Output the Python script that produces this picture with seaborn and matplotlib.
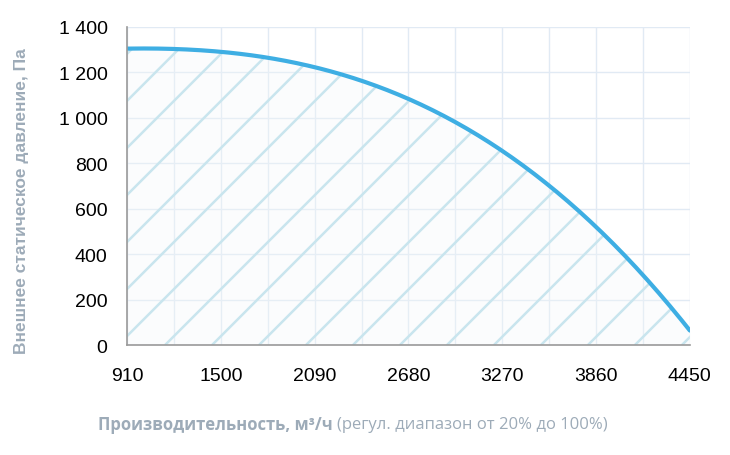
import matplotlib
matplotlib.use('Agg')

import numpy as np
import pandas as pd
import matplotlib.pyplot as plt
import seaborn as sns
from matplotlib.ticker import FixedLocator, FuncFormatter

# Data
airflow = [910, 1205, 1500, 1795, 2090, 2385, 2680, 2975, 3270, 3565, 3860, 4155, 4450]
pressure = [1303, 1302, 1294, 1268, 1215, 1160, 1083, 982, 860, 700, 522, 300, 68]
x_ticks = [910, 1500, 2090, 2680, 3270, 3860, 4450]
x_minor = [1205, 1795, 2385, 2975, 3565, 4155]
y_ticks = [0, 200, 400, 600, 800, 1000, 1200, 1400]

df = pd.DataFrame({'airflow': airflow, 'pressure': pressure})

sns.set_style('white')
plt.rcParams['font.family'] = ['Liberation Sans', 'DejaVu Sans']

curve_color = '#3eaee3'
hatch_color = '#c9e5ee'
grid_color = '#e1eaf4'
label_color = '#9dabb8'
axis_color = '#9a9a9a'

fig = plt.figure(figsize=(7.30, 4.56), dpi=100)
ax = fig.add_axes([0.174, 0.241, 0.771, 0.698])

# smooth curve through the read points
xs = np.linspace(airflow[0], airflow[-1], 200)
coef = np.polyfit(airflow, pressure, 4)
smooth = pd.DataFrame({'airflow': xs, 'pressure': np.polyval(coef, xs)})

poly = ax.fill_between(smooth['airflow'], 0, smooth['pressure'],
                       color='#f4f8fa', alpha=0.3, lw=0, zorder=1)

# diagonal hatch lines clipped to the area under the curve
w_px, h_px = 563.0, 318.0
step = 47.0 / w_px
start = 38.0 / w_px - step * 20
for k in range(40):
    x0 = start + k * step
    ln, = ax.plot([x0, x0 + h_px / w_px], [0, 1], transform=ax.transAxes,
                  color=hatch_color, lw=1.8, zorder=2, solid_capstyle='butt')
    ln.set_clip_path(poly.get_paths()[0], ax.transData)

sns.lineplot(data=smooth, x='airflow', y='pressure', color=curve_color,
             lw=3, ax=ax, zorder=4)

ax.set_xlim(airflow[0], airflow[-1])
ax.set_ylim(0, 1400)
ax.xaxis.set_major_locator(FixedLocator(x_ticks))
ax.xaxis.set_minor_locator(FixedLocator(x_minor))
ax.yaxis.set_major_locator(FixedLocator(y_ticks))
ax.yaxis.set_major_formatter(FuncFormatter(lambda v, p: f'{int(v):,}'.replace(',', ' ')))

for v in x_ticks + x_minor:
    ax.axvline(v, color=grid_color, lw=1, zorder=0)
for v in y_ticks:
    ax.axhline(v, color=grid_color, lw=1, zorder=0)

for s in ['top', 'right']:
    ax.spines[s].set_visible(False)
for s in ['left', 'bottom']:
    ax.spines[s].set_color(axis_color)
    ax.spines[s].set_linewidth(1.2)
    ax.spines[s].set_zorder(5)

ax.tick_params(axis='x', which='both', direction='inout', length=10, width=1.2,
               color=axis_color, labelsize=14, pad=11, labelcolor='black')
ax.tick_params(axis='y', which='both', direction='out', length=6, width=1.2,
               color=axis_color, labelsize=14, pad=8, labelcolor='black')
ax.set_xlabel('')
ax.set_ylabel('')

fig.text(0.030, 0.56, 'Внешнее статическое давление, Па', rotation=90,
         ha='center', va='center', fontsize=12.5, fontweight='bold', color=label_color)

t1 = fig.text(98 / 730, 1 - 425 / 456, 'Производительность, м³/ч', ha='left', va='center',
              fontsize=12, fontweight='bold', color=label_color, family=['Open Sans', 'DejaVu Sans'])
fig.canvas.draw()
bb = t1.get_window_extent()
fig.text((bb.x1 + 4) / 730, 1 - 425 / 456, '(регул. диапазон от 20% до 100%)', ha='left',
         va='center', fontsize=12, color=label_color, family=['Open Sans', 'DejaVu Sans'])

fig.savefig('out.png', dpi=100)
